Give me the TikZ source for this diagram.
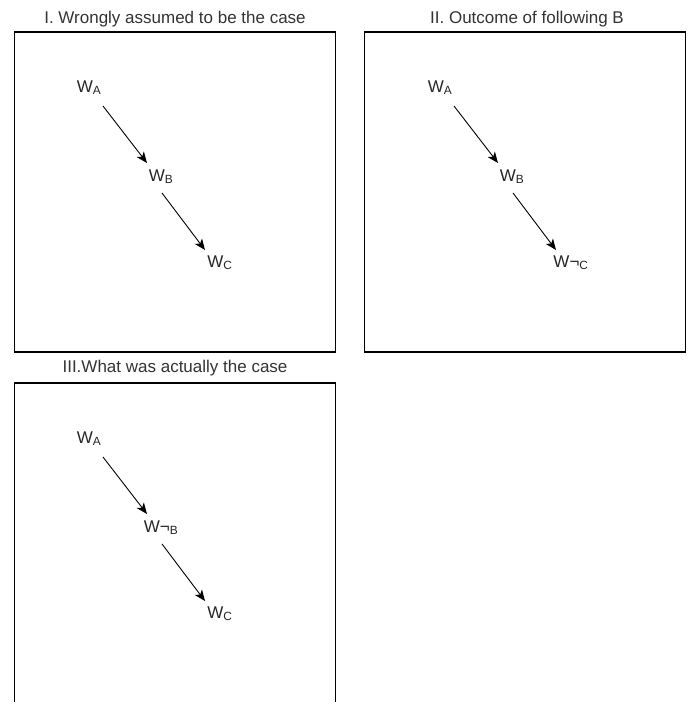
\documentclass[tikz,border=0pt]{standalone}
\usepackage{fontspec}
\setmainfont{Liberation Sans}
\usetikzlibrary{arrows.meta,positioning}

\begin{document}
\begin{tikzpicture}[
  x=1pt, y=-1pt,
  frame/.style={draw, line width=1.2pt, minimum width=321pt, minimum height=320pt, inner sep=0pt},
  title/.style={anchor=base, text=black!80, font=\fontsize{17}{20}\selectfont},
  lbl/.style={anchor=base, inner sep=0pt, text=black!85, font=\fontsize{17}{20}\selectfont},
  arr/.style={-{Stealth[length=11pt, width=9pt, inset=3pt]}, line width=0.9pt}
]
\useasboundingbox (0,0) rectangle (691,702);

% I
\node[frame] (frameI) at (175,192) {};
\node[title] (titleI) at (175,23) {I. Wrongly assumed to be the case};
\node[lbl] (waI) at (89,92) {W\textsubscript{A}};
\node[lbl] (wbI) at (161,181) {W\textsubscript{B}};
\node[lbl] (wcI) at (220,267) {W\textsubscript{C}};
\draw[arr] ([xshift=14pt, yshift=-14pt]waI.base) -- ([xshift=-14pt, yshift=18pt]wbI.base);
\draw[arr] ([xshift=1pt, yshift=-12pt]wbI.base) -- ([xshift=-15pt, yshift=17pt]wcI.base);

% II
\node[frame] (frameII) at (525,192) {};
\node[title] (titleII) at (527,23) {II. Outcome of following B};
\node[lbl] (waII) at (440,92) {W\textsubscript{A}};
\node[lbl] (wbII) at (512,181) {W\textsubscript{B}};
\node[lbl] (wcII) at (571,267) {W¬\textsubscript{C}};
\draw[arr] ([xshift=14pt, yshift=-14pt]waII.base) -- ([xshift=-14pt, yshift=18pt]wbII.base);
\draw[arr] ([xshift=1pt, yshift=-12pt]wbII.base) -- ([xshift=-15pt, yshift=17pt]wcII.base);

% III
\node[frame] (frameIII) at (175,543) {};
\node[title] (titleIII) at (175,372) {III.What was actually the case};
\node[lbl] (waIII) at (89,443) {W\textsubscript{A}};
\node[lbl] (wbIII) at (161,532) {W¬\textsubscript{B}};
\node[lbl] (wcIII) at (220,618) {W\textsubscript{C}};
\draw[arr] ([xshift=14pt, yshift=-14pt]waIII.base) -- ([xshift=-14pt, yshift=18pt]wbIII.base);
\draw[arr] ([xshift=1pt, yshift=-12pt]wbIII.base) -- ([xshift=-15pt, yshift=17pt]wcIII.base);

\end{tikzpicture}
\end{document}
